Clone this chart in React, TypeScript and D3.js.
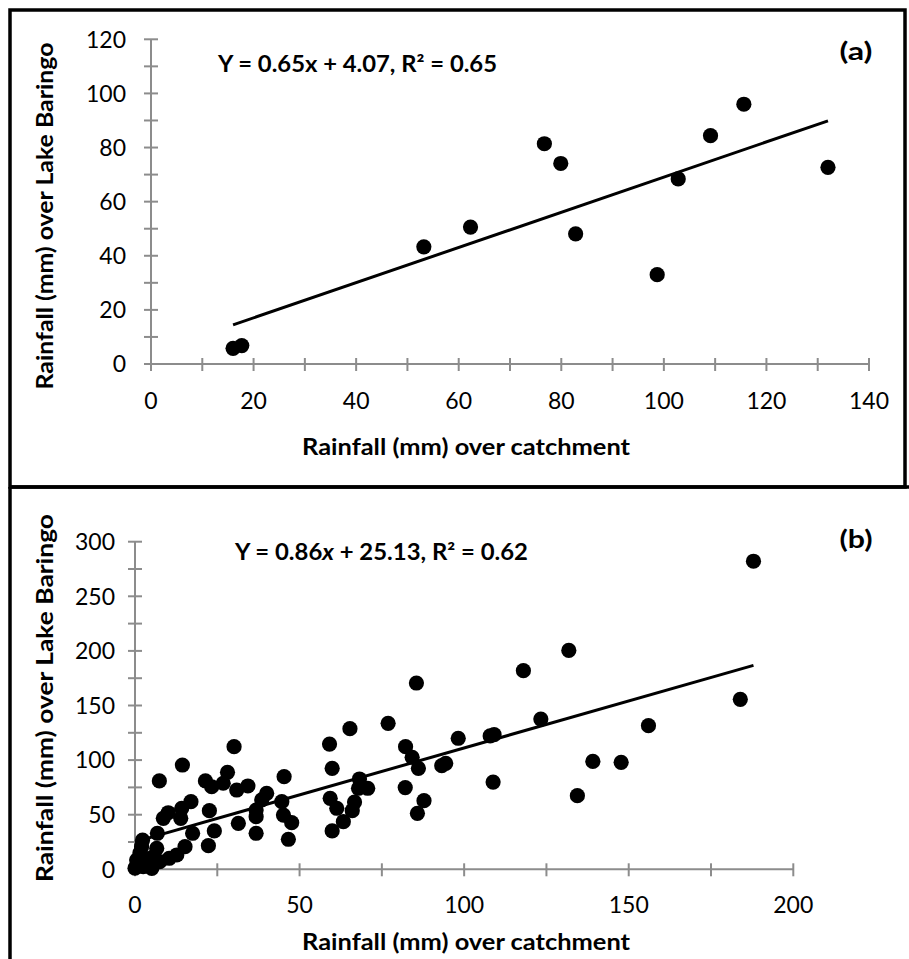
import React from "react";
import * as d3 from "d3";

// Panel (a)
const aX = [16.0, 17.7, 53.2, 62.3, 76.7, 79.9, 82.8, 98.7, 102.8, 109.1, 115.6, 132.0];
const aY = [5.8, 6.8, 43.3, 50.6, 81.4, 74.1, 48.1, 33.0, 68.4, 84.4, 96.0, 72.7];
const aXTicks = [0, 20, 40, 60, 80, 100, 120, 140];
const aYTicks = [0, 20, 40, 60, 80, 100, 120];
const aFit = { slope: 0.65, intercept: 4.07 };

// Panel (b)
const bX = [
  0, 0.5, 1.2, 2.5, 3.0, 5.1, 5.6, 2.3, 2.0, 1.5, 4.2, 6.6, 6.8, 7.4, 8.6, 10.1, 10.4, 12.7, 7.5,
  13.9, 14.2, 14.4, 15.2, 17.0, 17.5, 21.4, 22.3, 22.6, 23.3, 24.1, 26.8, 28.1, 30.1, 30.9, 31.4, 34.3,
  36.8, 36.8, 36.8, 38.5, 40.0, 44.6, 45.3, 45.1, 47.6, 46.6,
  59.1, 59.9, 59.3, 61.3, 59.9, 63.3, 65.3, 66.0, 66.7, 68.2, 67.9, 70.7, 76.9, 82.1, 82.2, 84.2, 85.5,
  86.1, 85.8, 87.8, 93.2, 94.4, 98.2,
  107.9, 109.1, 108.8, 118.0, 123.3, 131.8, 134.4, 139.1, 147.7, 156.0, 183.9, 187.9,
];
const bY = [
  1, 8.5, 4.5, 2.4, 10.1, 0.9, 11.5, 26.8, 20.7, 15.0, 5.0, 19.2, 33.0, 80.9, 46.7, 51.8, 10.1, 13.1, 7.0,
  46.7, 55.9, 95.5, 20.7, 61.9, 33.0, 80.9, 21.6, 53.7, 75.6, 35.1, 78.8, 88.8, 112.3, 72.6, 42.1, 76.3,
  33.0, 48.2, 54.3, 63.5, 69.6, 61.9, 84.8, 49.7, 42.7, 27.5,
  114.7, 92.5, 65.0, 55.9, 35.1, 43.6, 128.8, 53.7, 61.6, 82.7, 74.2, 74.2, 133.7, 74.8, 112.3, 102.6, 170.6,
  92.5, 51.3, 62.8, 94.9, 97.1, 120.0,
  122.1, 123.3, 79.9, 181.9, 137.6, 200.4, 67.4, 98.9, 98.0, 131.5, 155.7, 282.1,
];
const bXTicks = [0, 50, 100, 150, 200];
const bYTicks = [0, 50, 100, 150, 200, 250, 300];
const bFit = { slope: 0.86, intercept: 25.13 };

const FONT = "Lato, 'Open Sans', sans-serif";
const AXIS = "#8c8c8c";

type PanelProps = {
  xs: number[];
  ys: number[];
  xDomain: [number, number];
  yDomain: [number, number];
  xRange: [number, number];
  yRange: [number, number];
  xTicks: number[];
  yTicks: number[];
  xStep: number;
  yStep: number;
  fit: { slope: number; intercept: number };
  xLabelY: number;
  yLabelX: number;
  equation: React.ReactNode;
  eqX: number;
  eqY: number;
  eqLen: number;
  tag: string;
  tagX: number;
  tagY: number;
  yTitleCenter: number;
  yTitleLen: number;
  xTitleY: number;
};

function Panel(p: PanelProps) {
  const x = d3.scaleLinear().domain(p.xDomain).range(p.xRange);
  const y = d3.scaleLinear().domain(p.yDomain).range(p.yRange);
  const minorX = d3.range(p.xDomain[0], p.xDomain[1] + 0.001, p.xStep);
  const minorY = d3.range(p.yDomain[0], p.yDomain[1] + 0.001, p.yStep);
  const x0 = d3.min(p.xs) as number;
  const x1 = d3.max(p.xs) as number;
  const line = d3.line<number>().x((d) => x(d)).y((d) => y(p.fit.slope * d + p.fit.intercept));
  return (
    <g>
      {/* axes */}
      <line x1={x(p.xDomain[0])} x2={x(p.xDomain[0])} y1={y(p.yDomain[0])} y2={y(p.yDomain[1])} stroke={AXIS} strokeWidth={2} />
      <line x1={x(p.xDomain[0])} x2={x(p.xDomain[1])} y1={y(p.yDomain[0])} y2={y(p.yDomain[0])} stroke={AXIS} strokeWidth={2} />
      {minorY.map((t) => (
        <line key={"yt" + t} x1={x(p.xDomain[0]) - 7} x2={x(p.xDomain[0]) + 7} y1={y(t)} y2={y(t)} stroke={AXIS} strokeWidth={2} />
      ))}
      {minorX.map((t) => (
        <line key={"xt" + t} x1={x(t)} x2={x(t)} y1={y(p.yDomain[0]) - 6} y2={y(p.yDomain[0]) + 7} stroke={AXIS} strokeWidth={2} />
      ))}
      {p.yTicks.map((t) => (
        <text key={"yl" + t} x={p.yLabelX} y={y(t)} dy="0.36em" textAnchor="end" fontFamily={FONT} fontSize={23} fill="#000">
          {t}
        </text>
      ))}
      {p.xTicks.map((t) => (
        <text key={"xl" + t} x={x(t)} y={p.xLabelY} textAnchor="middle" fontFamily={FONT} fontSize={23} fill="#000">
          {t}
        </text>
      ))}
      {/* trend line */}
      <path d={line([x0, x1]) as string} stroke="#000" strokeWidth={3} fill="none" />
      {/* points */}
      {p.xs.map((v, i) => (
        <circle key={"c" + i} cx={x(v)} cy={y(p.ys[i])} r={7.6} fill="#000" />
      ))}
      <text
        x={p.eqX}
        y={p.eqY}
        fontFamily={FONT}
        fontWeight="bold"
        fontSize={22}
        fill="#000"
        textLength={p.eqLen}
        lengthAdjust="spacingAndGlyphs"
      >
        {p.equation}
      </text>
      <text
        x={p.tagX}
        y={p.tagY}
        textAnchor="middle"
        fontFamily={FONT}
        fontWeight="bold"
        fontSize={24}
        fill="#000"
        textLength={33}
        lengthAdjust="spacingAndGlyphs"
      >
        {p.tag}
      </text>
      <text
        transform={`translate(45,${p.yTitleCenter}) rotate(-90)`}
        textAnchor="middle"
        dy="0.35em"
        fontFamily={FONT}
        fontWeight="bold"
        fontSize={22}
        fill="#000"
        textLength={p.yTitleLen}
        lengthAdjust="spacingAndGlyphs"
      >
        Rainfall (mm) over Lake Baringo
      </text>
      <text
        x={466}
        y={p.xTitleY}
        textAnchor="middle"
        fontFamily={FONT}
        fontWeight="bold"
        fontSize={22}
        fill="#000"
        textLength={328}
        lengthAdjust="spacingAndGlyphs"
      >
        Rainfall (mm) over catchment
      </text>
    </g>
  );
}

export default function App() {
  return (
    <svg width={909} height={959} style={{ position: "absolute", left: 0, top: 0, background: "#fff" }}>
      <rect x={0} y={0} width={909} height={959} fill="#fff" />
      {/* frames */}
      <rect x={10} y={10} width={895} height={477} fill="none" stroke="#000" strokeWidth={3.5} />
      <path d="M10,487 L10,962" stroke="#000" strokeWidth={3.5} />
      <path d="M10,487 L912,487" stroke="#000" strokeWidth={3.5} />
      <Panel
        xs={aX}
        ys={aY}
        xDomain={[0, 140]}
        yDomain={[0, 120]}
        xRange={[151, 869]}
        yRange={[364, 39.3]}
        xTicks={aXTicks}
        yTicks={aYTicks}
        xStep={10}
        yStep={10}
        fit={aFit}
        xLabelY={409}
        yLabelX={126}
        equation={<>Y = 0.65x + 4.07, R² = 0.65</>}
        eqX={218}
        eqY={72}
        eqLen={279}
        tag="(a)"
        tagX={856}
        tagY={60}
        yTitleCenter={216}
        yTitleLen={347}
        xTitleY={455}
      />
      <Panel
        xs={bX}
        ys={bY}
        xDomain={[0, 200]}
        yDomain={[0, 300]}
        xRange={[135, 793.3]}
        yRange={[869.3, 541.7]}
        xTicks={bXTicks}
        yTicks={bYTicks}
        xStep={25}
        yStep={25}
        fit={bFit}
        xLabelY={913}
        yLabelX={115}
        equation={<>Y = 0.86<tspan fontStyle="italic">x</tspan> + 25.13, R² = 0.62</>}
        eqX={235}
        eqY={560}
        eqLen={293}
        tag="(b)"
        tagX={856}
        tagY={548}
        yTitleCenter={698}
        yTitleLen={368}
        xTitleY={950}
      />
    </svg>
  );
}
